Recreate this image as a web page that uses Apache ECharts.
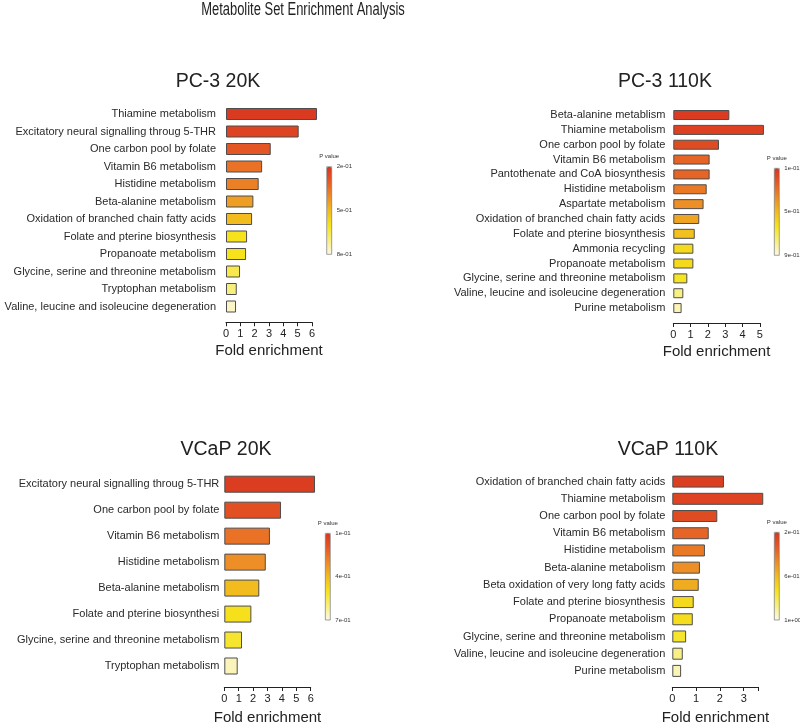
<!DOCTYPE html>
<html><head><meta charset="utf-8">
<script src="https://cdn.jsdelivr.net/npm/echarts@6/dist/echarts.min.js"></script>
<style>html,body{margin:0;padding:0;background:#fff}#c{width:800px;height:726px}</style>
</head><body><div id="c"></div><script>
// ---------- DATA ----------
const mainTitle = 'Metabolite Set Enrichment Analysis';
const panelTitles = ['PC-3 20K', 'PC-3 110K', 'VCaP 20K', 'VCaP 110K'];

const pc3_20k_pathways = ['Thiamine metabolism', 'Excitatory neural signalling throug 5-THR', 'One carbon pool by folate',
  'Vitamin B6 metabolism', 'Histidine metabolism', 'Beta-alanine metabolism', 'Oxidation of branched chain fatty acids',
  'Folate and pterine biosynthesis', 'Propanoate metabolism', 'Glycine, serine and threonine metabolism',
  'Tryptophan metabolism', 'Valine, leucine and isoleucine degeneration'];
const pc3_20k_fold = [6.35, 5.07, 3.12, 2.52, 2.28, 1.91, 1.82, 1.47, 1.40, 0.98, 0.75, 0.70];
const pc3_20k_p = [0.21, 0.24, 0.29, 0.35, 0.38, 0.44, 0.50, 0.60, 0.60, 0.65, 0.70, 0.77];

const pc3_110k_pathways = ['Beta-alanine metablism', 'Thiamine metabolism', 'One carbon pool by folate',
  'Vitamin B6 metabolism', 'Pantothenate and CoA biosynthesis', 'Histidine metabolism', 'Aspartate metabolism',
  'Oxidation of branched chain fatty acids', 'Folate and pterine biosynthesis', 'Ammonia recycling',
  'Propanoate metabolism', 'Glycine, serine and threonine metabolism', 'Valine, leucine and isoleucine degeneration',
  'Purine metabolism'];
const pc3_110k_fold = [3.24, 5.24, 2.64, 2.10, 2.10, 1.93, 1.75, 1.50, 1.24, 1.16, 1.16, 0.81, 0.58, 0.48];
const pc3_110k_p = [0.12, 0.14, 0.18, 0.26, 0.26, 0.32, 0.38, 0.44, 0.52, 0.60, 0.60, 0.64, 0.78, 0.84];

const vcap_20k_pathways = ['Excitatory neural signalling throug 5-THR', 'One carbon pool by folate', 'Vitamin B6 metabolism',
  'Histidine metabolism', 'Beta-alanine metabolism', 'Folate and pterine biosynthesi',
  'Glycine, serine and threonine metabolism', 'Tryptophan metabolism'];
const vcap_20k_fold = [6.30, 3.94, 3.17, 2.88, 2.43, 1.88, 1.23, 0.93];
const vcap_20k_p = [0.12, 0.17, 0.25, 0.31, 0.40, 0.49, 0.52, 0.66];

const vcap_110k_pathways = ['Oxidation of branched chain fatty acids', 'Thiamine metabolism', 'One carbon pool by folate',
  'Vitamin B6 metabolism', 'Histidine metabolism', 'Beta-alanine metabolism', 'Beta oxidation of very long fatty acids',
  'Folate and pterine biosynthesis', 'Propanoate metabolism', 'Glycine, serine and threonine metabolism',
  'Valine, leucine and isoleucine degeneration', 'Purine metabolism'];
const vcap_110k_fold = [2.17, 3.82, 1.89, 1.53, 1.37, 1.16, 1.11, 0.90, 0.86, 0.58, 0.44, 0.37];
const vcap_110k_p = [0.23, 0.25, 0.28, 0.36, 0.42, 0.48, 0.56, 0.70, 0.71, 0.76, 0.88, 0.94];

const pMin = [0.2, 0.1, 0.1, 0.2];
const pMax = [0.8, 0.9, 0.7, 1.0];
const pLegendLabels = [['2e-01', '5e-01', '8e-01'], ['1e-01', '5e-01', '9e-01'], ['1e-01', '4e-01', '7e-01'], ['2e-01', '6e-01', '1e+00']];
const foldAxisMax = [6, 5, 6, 3.62];
const xAxisName = 'Fold enrichment';
const legendName = 'P value';

// ---------- LAYOUT / STYLE ----------
const panels = [
  { names: pc3_20k_pathways, fold: pc3_20k_fold, p: pc3_20k_p },
  { names: pc3_110k_pathways, fold: pc3_110k_fold, p: pc3_110k_p },
  { names: vcap_20k_pathways, fold: vcap_20k_fold, p: vcap_20k_p },
  { names: vcap_110k_pathways, fold: vcap_110k_fold, p: vcap_110k_p }
];
const grids = [
  { left: 226, top: 105.25, width: 86, height: 210 },
  { left: 673.3, top: 107.6, width: 86.5, height: 207.9 },
  { left: 224.3, top: 471.2, width: 86.4, height: 210.4 },
  { left: 672.3, top: 473, width: 86.2, height: 208.8 }
];
const barWidths = [12, 10, 17, 12];
const axisOffsets = [7, 7.5, 8, 7.5];
const labelMargins = [10, 8, 5, 7];
const nameGaps = [21, 21, 23, 23];
const titlePos = [[213, 67], [660, 67], [221, 435], [663, 435]];
const legendBox = [
  { x: 326.7, y: 166.7, h: 87.6 },
  { x: 774.3, y: 168.3, h: 87 },
  { x: 325.3, y: 533.3, h: 86.7 },
  { x: 774.3, y: 532.3, h: 87.7 }
];
const colorStops = ['#d9361f', '#e55a24', '#ec8a27', '#f2bb1e', '#f6e31b', '#f7ef7c', '#fcf8e4'];
const FONT = '"Liberation Sans", Arial, Helvetica, sans-serif';

const option = {
  animation: false,
  backgroundColor: '#fff',
  textStyle: { fontFamily: FONT },
  title: panelTitles.map((t, i) => ({ text: t, left: titlePos[i][0], top: titlePos[i][1], textAlign: 'center',
      textStyle: { fontSize: 19.5, fontWeight: 'normal', color: '#222', fontFamily: FONT } })),
  grid: grids.map(g => Object.assign({ containLabel: false }, g)),
  xAxis: panels.map((pn, i) => ({
    type: 'value', gridIndex: i, min: 0, max: foldAxisMax[i], interval: 1, offset: axisOffsets[i],
    name: xAxisName, nameLocation: 'middle', nameGap: nameGaps[i],
    nameTextStyle: { fontSize: 15, color: '#222', fontFamily: FONT },
    axisLine: { show: true, lineStyle: { color: '#222', width: 1 } },
    axisTick: { show: true, length: 4, lineStyle: { color: '#222' } },
    splitLine: { show: false },
    axisLabel: { fontSize: 11, color: '#222', margin: 6, showMaxLabel: true,
      formatter: v => (Math.abs(v - Math.round(v)) < 1e-6 ? String(Math.round(v)) : '') }
  })),
  yAxis: panels.map((pn, i) => ({
    type: 'category', gridIndex: i, data: pn.names, inverse: true,
    axisLine: { show: false }, axisTick: { show: false }, splitLine: { show: false },
    axisLabel: { interval: 0, fontSize: 11, color: '#2a2a2a', margin: labelMargins[i] }
  })),
  visualMap: panels.map((pn, i) => ({
    type: 'continuous', seriesIndex: i, dimension: 2, min: pMin[i], max: pMax[i],
    inverse: true, orient: 'vertical', calculable: false, padding: 0,
    itemWidth: 5, itemHeight: legendBox[i].h, left: legendBox[i].x, top: legendBox[i].y,
    inRange: { color: colorStops }, text: null
  })),
  series: panels.map((pn, i) => ({
    type: 'bar', xAxisIndex: i, yAxisIndex: i, clip: false, barWidth: barWidths[i],
    encode: { x: 0, y: 1 },
    itemStyle: { borderColor: '#4d4d4d', borderWidth: 1 },
    data: pn.names.map((n, k) => [pn.fold[k], n, pn.p[k]])
  })),
  graphic: [{
    type: 'text', x: 303, y: 10, scaleX: 0.74, scaleY: 1,
    style: { text: mainTitle, fontSize: 17.5, fill: '#222', textAlign: 'center', textVerticalAlign: 'middle', fontFamily: FONT }
  }]
};

legendBox.forEach((b, i) => {
  option.graphic.push({ type: 'rect', shape: { x: b.x, y: b.y, width: 5, height: b.h },
    style: { fill: 'none', stroke: '#666', lineWidth: 0.6 }, z: 100 });
  option.graphic.push({ type: 'text', x: b.x + 2.5, y: b.y - 10,
    style: { text: legendName, fontSize: 6, fill: '#333', textAlign: 'center', textVerticalAlign: 'middle', fontFamily: FONT } });
  pLegendLabels[i].forEach((t, k) => {
    option.graphic.push({ type: 'text', x: b.x + 10, y: b.y + b.h * k / 2,
      style: { text: t, fontSize: 6, fill: '#333', textAlign: 'left', textVerticalAlign: 'middle', fontFamily: FONT } });
  });
});

const chart = echarts.init(document.getElementById('c'), null, { renderer: 'canvas' });
chart.setOption(option);
</script></body></html>
